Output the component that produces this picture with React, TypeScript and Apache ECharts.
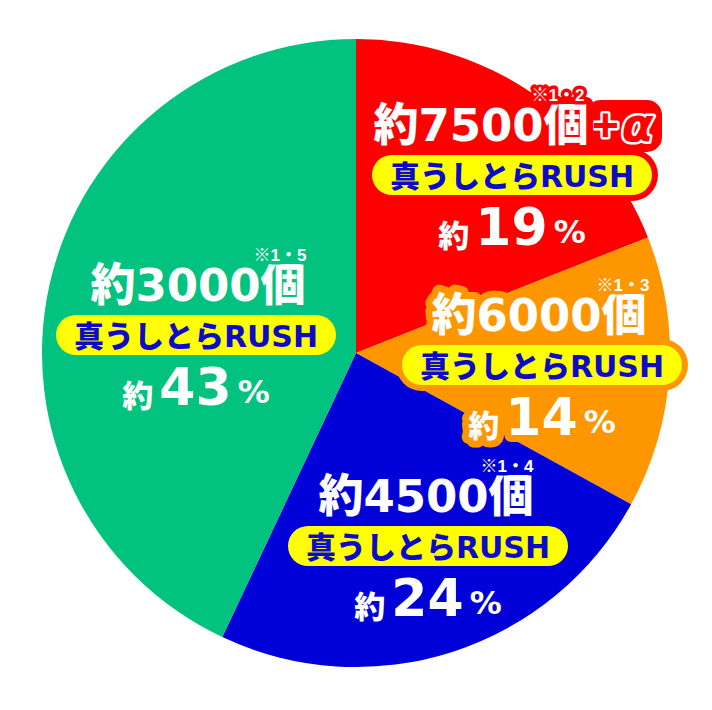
import React, { useEffect, useRef } from "react";
import * as echarts from "echarts";

// ---- data ----
const categories = ["真うしとらRUSH 約7500個+α", "真うしとらRUSH 約6000個", "真うしとらRUSH 約4500個", "真うしとらRUSH 約3000個"];
const shares = [19, 14, 24, 43];
const countValues = [7500, 6000, 4500, 3000];
const countSuffix = ["+α", "", "", ""];
const notes = ["※1・2", "※1・3", "※1・4", "※1・5"];
const rushLabel = "真うしとらRUSH";
const colors = ["#ff0000", "#fe9600", "#0000d8", "#02c280"];

// ---- layout ----
const CX = 356;
const CY = 353;
const R = 314;
const labelPos = [
  { x: 512, y: 175, countX: 481, noteX: 558, sufX: 592 },
  { x: 542, y: 365, countX: 539, noteX: 623, sufX: 0 },
  { x: 428, y: 546, countX: 426, noteX: 507, sufX: 0 },
  { x: 196, y: 335, countX: 198, noteX: 280, sufX: 0 },
];
const WIDE = "'DejaVu Sans', 'Noto Sans CJK JP', sans-serif";
const CJK = "'Noto Sans CJK JP', sans-serif";
const LIB = "'Liberation Sans', 'Noto Sans CJK JP', sans-serif";

function suffixRich(color: string) {
  return {
    p: { fontFamily: LIB, fontWeight: "bold", fontSize: 46, fill: color, stroke: "#ffffff", lineWidth: 5, padding: [0, 3, 0, 0] },
    a: { fontFamily: WIDE, fontWeight: "bold", fontStyle: "italic", fontSize: 46, fill: color, stroke: "#ffffff", lineWidth: 5 },
  };
}

function pctRich() {
  return {
    k: { fontFamily: CJK, fontWeight: 900, fontSize: 31, padding: [12, 6, 0, 0] },
    n: { fontFamily: WIDE, fontWeight: "bold", fontSize: 52 },
    s: { fontFamily: WIDE, fontWeight: "bold", fontSize: 32, padding: [10, 0, 0, 6] },
  };
}

function textStyle(extra: any) {
  return {
    align: "center",
    verticalAlign: "middle",
    textAlign: "center",
    textVerticalAlign: "middle",
    ...extra,
  };
}

function buildGraphic() {
  const els: any[] = [];
  shares.forEach((share, i) => {
    const { x, y, countX, noteX, sufX } = labelPos[i];
    const color = colors[i];
    const suf = countSuffix[i];
    const countText = `約${countValues[i]}個`;
    const pctText = `{k|約}{n|${share}}{s|%}`;
    const yc = y - 50;
    const yp = y + 52;
    if (suf) {
      // outer outline blob behind the suffix that sticks out of the pie
      els.push({
        type: "rect", z: 9,
        shape: { x: sufX - 6, y: yc - 25, width: 76, height: 52, r: 15 },
        style: { fill: color },
      });
      els.push({
        type: "text", x: sufX, y: yc, z: 10,
        style: { text: `{p|${suf[0]}}{a|${suf[1]}}`, rich: suffixRich(color), align: "left", verticalAlign: "middle",
          textAlign: "left", textVerticalAlign: "middle", fill: color },
      });
    }
    els.push({
      type: "rect", z: 11,
      shape: { x: x - 146, y: y - 26, width: 292, height: 52, r: 26 },
      style: { fill: color },
    });
    els.push({
      type: "rect", z: 12,
      shape: { x: x - 140, y: y - 20, width: 280, height: 40, r: 20 },
      style: { fill: "#ffff00" },
    });
    els.push({
      type: "text", x, y: y + 1, z: 13,
      style: textStyle({ text: rushLabel, font: `900 30px ${WIDE}`, fill: "#0c0cc8" }),
    });
    els.push({
      type: "text", x: countX, y: yc, z: 10,
      style: textStyle({ text: countText, font: `900 45px ${WIDE}`, fill: "#ffffff", stroke: color, lineWidth: 14 }),
    });
    els.push({
      type: "text", x: noteX, y: yc - 30, z: 10,
      style: textStyle({ text: notes[i], font: `bold 17px ${LIB}`, fill: "#ffffff", stroke: color, lineWidth: 7 }),
    });
    els.push({
      type: "text", x, y: yp, z: 10,
      style: textStyle({ text: pctText, rich: pctRich(), fill: "#ffffff", stroke: color, lineWidth: 14 }),
    });
  });
  return els;
}

export default function App() {
  const ref = useRef<HTMLDivElement>(null);
  useEffect(() => {
    if (!ref.current) return;
    const chart = echarts.init(ref.current, null, { renderer: "svg" });
    chart.setOption({
      animation: false,
      backgroundColor: "#ffffff",
      series: [
        {
          type: "pie",
          center: [CX, CY],
          radius: R,
          startAngle: 90,
          clockwise: true,
          silent: true,
          label: { show: false },
          labelLine: { show: false },
          itemStyle: { borderWidth: 0 },
          data: shares.map((v, i) => ({ name: categories[i], value: v, itemStyle: { color: colors[i] } })),
        },
      ],
      graphic: buildGraphic(),
    });
    return () => chart.dispose();
  }, []);
  return (
    <>
      <style>{"#root svg text { stroke-linejoin: round; paint-order: stroke; }"}</style>
      <div ref={ref} style={{ position: "absolute", left: 0, top: 0, width: 712, height: 710 }} />
    </>
  );
}
